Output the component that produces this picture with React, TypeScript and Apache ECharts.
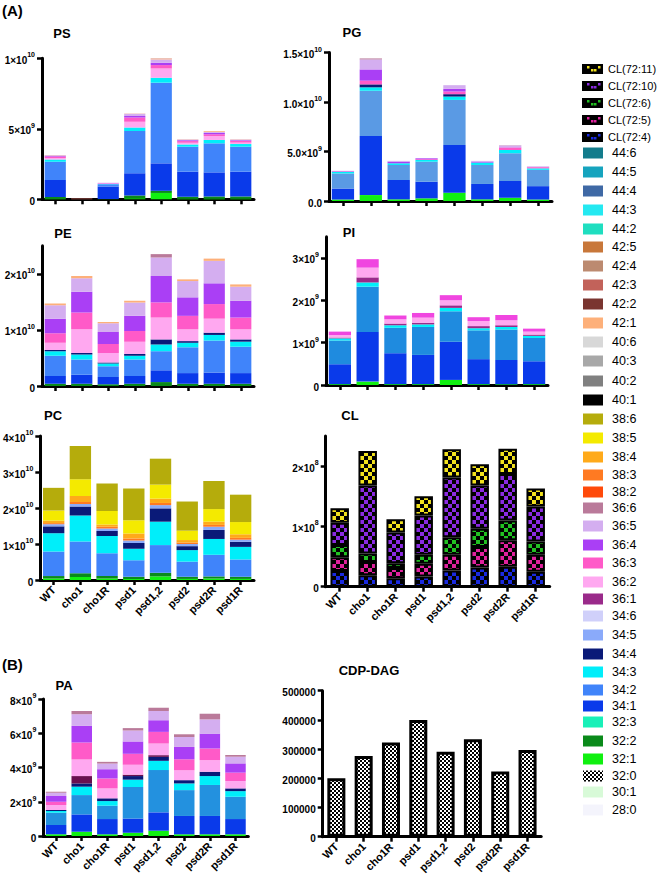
import React, { useEffect, useRef } from 'react';
import * as echarts from 'echarts';

const FONT = '"Liberation Sans", Arial, Helvetica, sans-serif';

const samples = ['WT', 'cho1', 'cho1R', 'psd1', 'psd1,2', 'psd2', 'psd2R', 'psd1R'];

// Legend
const legendNames = ['CL(72:11)', 'CL(72:10)', 'CL(72:6)', 'CL(72:5)', 'CL(72:4)', '44:6', '44:5', '44:4', '44:3', '44:2', '42:5', '42:4', '42:3', '42:2', '42:1', '40:6', '40:3', '40:2', '40:1', '38:6', '38:5', '38:4', '38:3', '38:2', '36:6', '36:5', '36:4', '36:3', '36:2', '36:1', '34:6', '34:5', '34:4', '34:3', '34:2', '34:1', '32:3', '32:2', '32:1', '32:0', '30:1', '28:0'];
const legendColors = ['#F2E21E', '#8B2BE2', '#22C022', '#E0229E', '#1A2AE0', '#137C8C', '#16A4BE', '#3F69A5', '#24E9F1', '#1FDEC0', '#C8773A', '#BC8A70', '#C2625A', '#7A3530', '#FDB07A', '#D8D8D8', '#A8A8A8', '#808080', '#000000', '#B5AC0C', '#F4EA00', '#FFAA1A', '#FF7A22', '#FF4A0A', '#BA7A9A', '#D4AEF0', '#AA3FF5', '#FF5AC8', '#FFA8F0', '#9A2A8A', '#D0D0FA', '#8AAAFA', '#0A1A78', '#00EEFA', '#4084FA', '#0A3AEA', '#18F0B8', '#0A8A1A', '#10F010', 'checker', '#D8FAD8', '#F4F4FC'];
const legendY = [69, 86, 103, 120, 137, 153, 172, 191, 210, 229, 247, 266, 285, 304, 323, 342, 361, 381, 400, 419, 438, 457, 475, 492, 508, 526, 545, 563, 582, 599, 616, 635, 654, 672, 690, 706, 722, 741, 759, 776, 792, 810];

// PS (x1e9)
const psSpecies = ['32:1', '32:2', '34:1', '34:2', '34:3', '36:2', '36:3', '36:4', '36:5', '42:1', '42:3'];
const psValues = [
  [0.03, 0, 0, 0.08, 0.45, 0.03, 0.03, 0.03],
  [0.14, 0, 0.02, 0.19, 0.15, 0.15, 0.17, 0.17],
  [1.2, 0, 0.88, 1.57, 1.95, 1.78, 1.71, 1.76],
  [1.3, 0, 0.16, 3.0, 5.72, 1.77, 2.06, 1.77],
  [0.16, 0, 0.03, 0.26, 0.35, 0.16, 0.24, 0.19],
  [0.1, 0, 0.03, 0.4, 0.66, 0.12, 0.28, 0.1],
  [0.1, 0, 0.02, 0.3, 0.24, 0.12, 0.12, 0.12],
  [0.04, 0, 0.01, 0.1, 0.16, 0.06, 0.1, 0.05],
  [0.06, 0, 0.02, 0.17, 0.24, 0.05, 0.06, 0.05],
  [0.02, 0, 0, 0.02, 0.05, 0.02, 0.06, 0.02],
  [0, 0.06, 0, 0, 0.02, 0, 0, 0],
];
const psTicks = [0, 5e9, 1e10];

// PG (x1e9)
const pgSpecies = ['32:1', '34:1', '34:2', '34:3', '34:4', '36:3', '36:4', '36:5', '36:6'];
const pgValues = [
  [0.15, 0.6, 0.17, 0.27, 0.84, 0.17, 0.34, 0.15],
  [1.11, 5.96, 1.95, 1.68, 4.82, 1.55, 1.68, 1.35],
  [1.52, 4.58, 1.52, 2.02, 4.55, 1.92, 2.8, 1.65],
  [0.17, 0.34, 0.17, 0.17, 0.34, 0.24, 0.34, 0.15],
  [0, 0.3, 0, 0, 0.24, 0, 0, 0],
  [0.05, 0.37, 0, 0.08, 0.27, 0, 0.24, 0.12],
  [0.03, 1.14, 0.17, 0.09, 0.27, 0.1, 0.04, 0],
  [0.02, 1.01, 0.07, 0, 0.37, 0.07, 0.16, 0.08],
  [0, 0.1, 0, 0, 0, 0, 0.04, 0],
];
const pgTicks = [0, 5e9, 1e10, 1.5e10];

// PE (x1e10)
const peSpecies = ['32:2', '34:1', '34:2', '34:3', '34:4', '36:2', '36:3', '36:4', '36:5', '36:6', '42:1'];
const peValues = [
  [0.04, 0.04, 0.03, 0.04, 0.07, 0.04, 0.04, 0.04],
  [0.14, 0.16, 0.13, 0.14, 0.21, 0.19, 0.2, 0.19],
  [0.36, 0.27, 0.19, 0.29, 0.34, 0.46, 0.57, 0.47],
  [0.08, 0.09, 0.05, 0.07, 0.12, 0.08, 0.1, 0.09],
  [0.02, 0.03, 0.02, 0.03, 0.09, 0.03, 0.04, 0.04],
  [0.13, 0.42, 0.17, 0.22, 0.39, 0.21, 0.25, 0.18],
  [0.17, 0.3, 0.16, 0.19, 0.27, 0.24, 0.26, 0.21],
  [0.26, 0.37, 0.21, 0.27, 0.47, 0.33, 0.37, 0.3],
  [0.24, 0.24, 0.16, 0.24, 0.33, 0.29, 0.4, 0.25],
  [0, 0, 0, 0, 0.06, 0, 0, 0],
  [0.03, 0.04, 0.02, 0.03, 0, 0.03, 0.04, 0.04],
];
const peTicks = [0, 1e10, 2e10];

// PI (x1e9)
const piSpecies = ['32:1', '34:1', '34:2', '34:3', '36:1', '36:2', '36:3'];
const piValues = [
  [0.02, 0.08, 0.02, 0.02, 0.12, 0.02, 0.02, 0.02],
  [0.47, 1.17, 0.73, 0.69, 0.9, 0.59, 0.57, 0.54],
  [0.56, 1.07, 0.6, 0.66, 0.72, 0.68, 0.72, 0.55],
  [0.05, 0.1, 0.06, 0.06, 0.08, 0.05, 0.06, 0.05],
  [0.02, 0.12, 0.04, 0.04, 0.06, 0.05, 0.04, 0.03],
  [0.06, 0.23, 0.1, 0.12, 0.12, 0.12, 0.12, 0.07],
  [0.08, 0.2, 0.09, 0.11, 0.12, 0.09, 0.12, 0.07],
];
const piTicks = [0, 1e9, 2e9, 3e9];

// PC (x1e10)
const pcSpecies = ['32:1', '32:2', '34:2', '34:3', '34:4', '34:5', '38:3', '38:4', '38:5', '38:6'];
const pcValues = [
  [0.04, 0.08, 0.04, 0.03, 0.1, 0.03, 0.04, 0.03],
  [0.07, 0.11, 0.07, 0.06, 0.1, 0.06, 0.06, 0.06],
  [0.68, 0.88, 0.63, 0.46, 0.77, 0.42, 0.6, 0.48],
  [0.51, 0.72, 0.48, 0.32, 0.65, 0.32, 0.44, 0.35],
  [0.19, 0.25, 0.14, 0.16, 0.37, 0.11, 0.25, 0.14],
  [0.06, 0.07, 0.07, 0.07, 0.09, 0.06, 0.09, 0.06],
  [0.03, 0.06, 0.05, 0.05, 0.06, 0.04, 0.05, 0.05],
  [0.07, 0.16, 0.06, 0.14, 0.12, 0.07, 0.09, 0.1],
  [0.28, 0.47, 0.38, 0.37, 0.39, 0.26, 0.35, 0.34],
  [0.63, 0.92, 0.76, 0.88, 0.72, 0.81, 0.78, 0.76],
];
const pcTicks = [0, 1e10, 2e10, 3e10, 4e10];

// CL (x1e8)
const clSpecies = ['CL(72:4)', 'CL(72:5)', 'CL(72:6)', 'CL(72:10)', 'CL(72:11)'];
const clValues = [
  [0.26, 0.19, 0.14, 0.17, 0.27, 0.32, 0.33, 0.25],
  [0.23, 0.22, 0.17, 0.21, 0.26, 0.34, 0.44, 0.28],
  [0.2, 0.14, 0.08, 0.15, 0.29, 0.3, 0.33, 0.22],
  [0.37, 1.13, 0.51, 0.65, 0.99, 0.72, 0.77, 0.58],
  [0.24, 0.57, 0.22, 0.32, 0.47, 0.35, 0.42, 0.3],
];
const clTicks = [0, 1e8, 2e8];

// PA (x1e9)
const paSpecies = ['32:1', '34:1', '34:2', '34:3', '34:4', '36:1', '36:2', '36:3', '36:4', '36:5', '36:6'];
const paValues = [
  [0.1, 0.25, 0.1, 0.19, 0.31, 0.1, 0.1, 0.1],
  [0.54, 1.01, 0.89, 0.83, 1.07, 1.07, 1.07, 0.89],
  [0.72, 1.13, 0.78, 1.84, 2.47, 1.51, 1.81, 1.3],
  [0.1, 0.49, 0.27, 0.43, 0.54, 0.39, 0.52, 0.33],
  [0.06, 0.19, 0.16, 0.21, 0.23, 0.19, 0.25, 0.16],
  [0, 0.43, 0, 0.08, 0.1, 0, 0, 0],
  [0.29, 0.97, 0.58, 0.58, 0.68, 0.58, 0.68, 0.43],
  [0.19, 0.99, 0.58, 0.64, 0.68, 0.64, 0.68, 0.49],
  [0.33, 0.97, 0.54, 0.72, 0.68, 0.72, 0.87, 0.54],
  [0.19, 0.68, 0.33, 0.64, 0.54, 0.58, 0.83, 0.39],
  [0.06, 0.19, 0.1, 0.14, 0.19, 0.16, 0.33, 0.1],
];
const paTicks = [0, 2e9, 4e9, 6e9, 8e9];

// CDP-DAG
const cdpSpecies = ['32:0'];
const cdpValues = [[200000, 276000, 323000, 400000, 291000, 334000, 223000, 297000]];
const cdpTicks = [0, 100000, 200000, 300000, 400000, 500000];

const panels = [
  { title: 'PS', tx: 62, ty: 33, species: psSpecies, values: psValues, unit: 1e9, ticks: psTicks, max: 1e10, digits: 0, grid: { left: 42, top: 58.3, width: 212, height: 141 }, xLabels: false, kind: 'solid', over: {} as Record<string, string> },
  { title: 'PG', tx: 352, ty: 32, species: pgSpecies, values: pgValues, unit: 1e9, ticks: pgTicks, max: 1.5e10, digits: 1, grid: { left: 329, top: 52.5, width: 223, height: 148.5 }, xLabels: false, kind: 'solid', over: { '34:2': '#5A9AE4' } },
  { title: 'PE', tx: 63, ty: 233, species: peSpecies, values: peValues, unit: 1e10, ticks: peTicks, max: 2.5e10, digits: 0, grid: { left: 42, top: 245.7, width: 212, height: 140.3 }, xLabels: false, kind: 'solid', over: {} },
  { title: 'PI', tx: 349, ty: 232, species: piSpecies, values: piValues, unit: 1e9, ticks: piTicks, max: 3.5e9, digits: 0, grid: { left: 326, top: 236.7, width: 222, height: 148.3 }, xLabels: false, kind: 'solid', over: { '34:2': '#1F8BDF', '36:3': '#F046E0' } },
  { title: 'PC', tx: 53, ty: 415, species: pcSpecies, values: pcValues, unit: 1e10, ticks: pcTicks, max: 4e10, digits: 0, grid: { left: 40, top: 436, width: 214, height: 144 }, xLabels: true, kind: 'solid', over: {} },
  { title: 'CL', tx: 350, ty: 415, species: clSpecies, values: clValues, unit: 1e8, ticks: clTicks, max: 2.5e8, digits: 0, grid: { left: 325.7, top: 436, width: 224, height: 150.7 }, xLabels: true, kind: 'cl', over: {} },
  { title: 'PA', tx: 64, ty: 685, species: paSpecies, values: paValues, unit: 1e9, ticks: paTicks, max: 8e9, digits: 0, grid: { left: 43.3, top: 699, width: 205, height: 137 }, xLabels: true, kind: 'solid', over: { '34:2': '#2391DF', '36:1': '#6A1050' } },
  { title: 'CDP-DAG', tx: 369, ty: 670, species: cdpSpecies, values: cdpValues, unit: 1, ticks: cdpTicks, max: 5e5, digits: -1, grid: { left: 322.7, top: 690.7, width: 218.5, height: 146 }, xLabels: true, kind: 'cdp', over: {} },
];

function checker(fg: string, bg: string, cell: number) {
  const c = document.createElement('canvas');
  c.width = cell * 2;
  c.height = cell * 2;
  const ctx = c.getContext('2d')!;
  ctx.fillStyle = bg;
  ctx.fillRect(0, 0, cell * 2, cell * 2);
  ctx.fillStyle = fg;
  ctx.fillRect(0, 0, cell, cell);
  ctx.fillRect(cell, cell, cell, cell);
  return { image: c.toDataURL(), repeat: 'repeat', imageWidth: cell * 2, imageHeight: cell * 2 } as any;
}

function colorOf(sp: string) {
  return legendColors[legendNames.indexOf(sp)];
}

function sciLabel(v: number, digits: number) {
  if (digits < 0) return '{m|' + String(v) + '}';
  if (v === 0) return '{m|' + (0).toFixed(digits) + '}';
  const e = Math.floor(Math.log10(v) + 1e-9);
  const m = v / Math.pow(10, e);
  return '{m|' + m.toFixed(digits) + '×10}{e|' + e + '}';
}

function buildOption() {
  const grids: any[] = [];
  const xAxes: any[] = [];
  const yAxes: any[] = [];
  const series: any[] = [];
  const graphics: any[] = [];

  panels.forEach((p, i) => {
    grids.push({ ...p.grid, containLabel: false });
    xAxes.push({
      type: 'category',
      gridIndex: i,
      data: samples,
      axisLine: { show: true, lineStyle: { color: '#000', width: 3 } },
      axisTick: { show: true, alignWithLabel: true, length: 5, interval: 0, lineStyle: { color: '#000', width: 2.5 } },
      axisLabel: {
        show: p.xLabels,
        rotate: 45,
        interval: 0,
        margin: 8,
        color: '#000',
        fontSize: 11,
        fontWeight: 'bold',
        fontFamily: FONT,
      },
      splitLine: { show: false },
    });
    yAxes.push({
      type: 'value',
      gridIndex: i,
      min: 0,
      max: p.max,
      interval: p.ticks[1] - p.ticks[0],
      axisLine: { show: true, lineStyle: { color: '#000', width: 3 } },
      axisTick: { show: true, length: 5, customValues: p.ticks, lineStyle: { color: '#000', width: 2.5 } },
      splitLine: { show: false },
      axisLabel: {
        customValues: p.ticks,
        margin: 7,
        formatter: (v: number) => (p.ticks.some((t) => Math.abs(t - v) < 1e-6 * p.max) ? sciLabel(v, p.digits) : ''),
        rich: {
          m: { fontSize: 10, fontWeight: 'bold', fontFamily: FONT, color: '#000', lineHeight: 14, verticalAlign: 'bottom' },
          e: { fontSize: 7, fontWeight: 'bold', fontFamily: FONT, color: '#000', lineHeight: 7, verticalAlign: 'top' },
        },
      },
    });
    p.species.forEach((sp, j) => {
      const base = (p.over as any)[sp] || colorOf(sp);
      let itemStyle: any = { color: base };
      let gap = '20%';
      if (p.kind === 'cl') {
        itemStyle = { color: checker(base, '#000', 4), borderColor: '#000', borderWidth: 2 };
        gap = '34%';
      } else if (p.kind === 'cdp') {
        itemStyle = { color: checker('#000', '#fff', 2), borderColor: '#000', borderWidth: 3 };
        gap = '34%';
      }
      series.push({
        type: 'bar',
        name: p.title + ' ' + sp,
        xAxisIndex: i,
        yAxisIndex: i,
        stack: 'stack' + i,
        barCategoryGap: gap,
        silent: true,
        itemStyle,
        data: p.values[j].map((v) => v * p.unit),
      });
    });
    graphics.push({
      type: 'text',
      x: p.tx,
      y: p.ty,
      style: { text: p.title, fontSize: 13, fontWeight: 'bold', fontFamily: FONT, fill: '#000', align: 'center', verticalAlign: 'middle' },
    });
  });

  graphics.push({ type: 'text', x: 2, y: 10, style: { text: '(A)', fontSize: 15, fontWeight: 'bold', fontFamily: FONT, fill: '#000', align: 'left', verticalAlign: 'middle' } });
  graphics.push({ type: 'text', x: 2, y: 664, style: { text: '(B)', fontSize: 15, fontWeight: 'bold', fontFamily: FONT, fill: '#000', align: 'left', verticalAlign: 'middle' } });

  // Legend
  legendNames.forEach((name, k) => {
    const y = legendY[k];
    const col = legendColors[k];
    const isCL = name.startsWith('CL');
    if (isCL) {
      graphics.push({ type: 'rect', shape: { x: 582, y: y - 5, width: 21, height: 10 }, style: { fill: '#000' } });
      [[587, y - 3], [591, y], [594, y], [598, y - 3]].forEach(([sx, sy]) => {
        graphics.push({ type: 'rect', shape: { x: sx, y: sy, width: 2.5, height: 2.5 }, style: { fill: col } });
      });
      graphics.push({ type: 'text', x: 608, y, style: { text: name, fontSize: 11, fontFamily: FONT, fill: '#000', align: 'left', verticalAlign: 'middle' } });
    } else {
      const fill = col === 'checker' ? checker('#000', '#fff', 2) : col;
      graphics.push({ type: 'rect', shape: { x: 583, y: y - 5.5, width: 20, height: 11 }, style: { fill } });
      graphics.push({ type: 'text', x: 612, y, style: { text: name, fontSize: 12.5, fontFamily: FONT, fill: '#000', align: 'left', verticalAlign: 'middle' } });
    }
  });

  return {
    animation: false,
    backgroundColor: '#fff',
    textStyle: { fontFamily: FONT },
    grid: grids,
    xAxis: xAxes,
    yAxis: yAxes,
    series,
    graphic: graphics,
  };
}

export default function App() {
  const ref = useRef<HTMLDivElement>(null);
  useEffect(() => {
    if (!ref.current) return;
    const chart = echarts.init(ref.current, null, { renderer: 'svg' });
    chart.setOption(buildOption() as any);
    return () => {
      chart.dispose();
    };
  }, []);
  return <div ref={ref} style={{ position: 'absolute', left: 0, top: 0, width: 661, height: 876, background: '#fff' }} />;
}
